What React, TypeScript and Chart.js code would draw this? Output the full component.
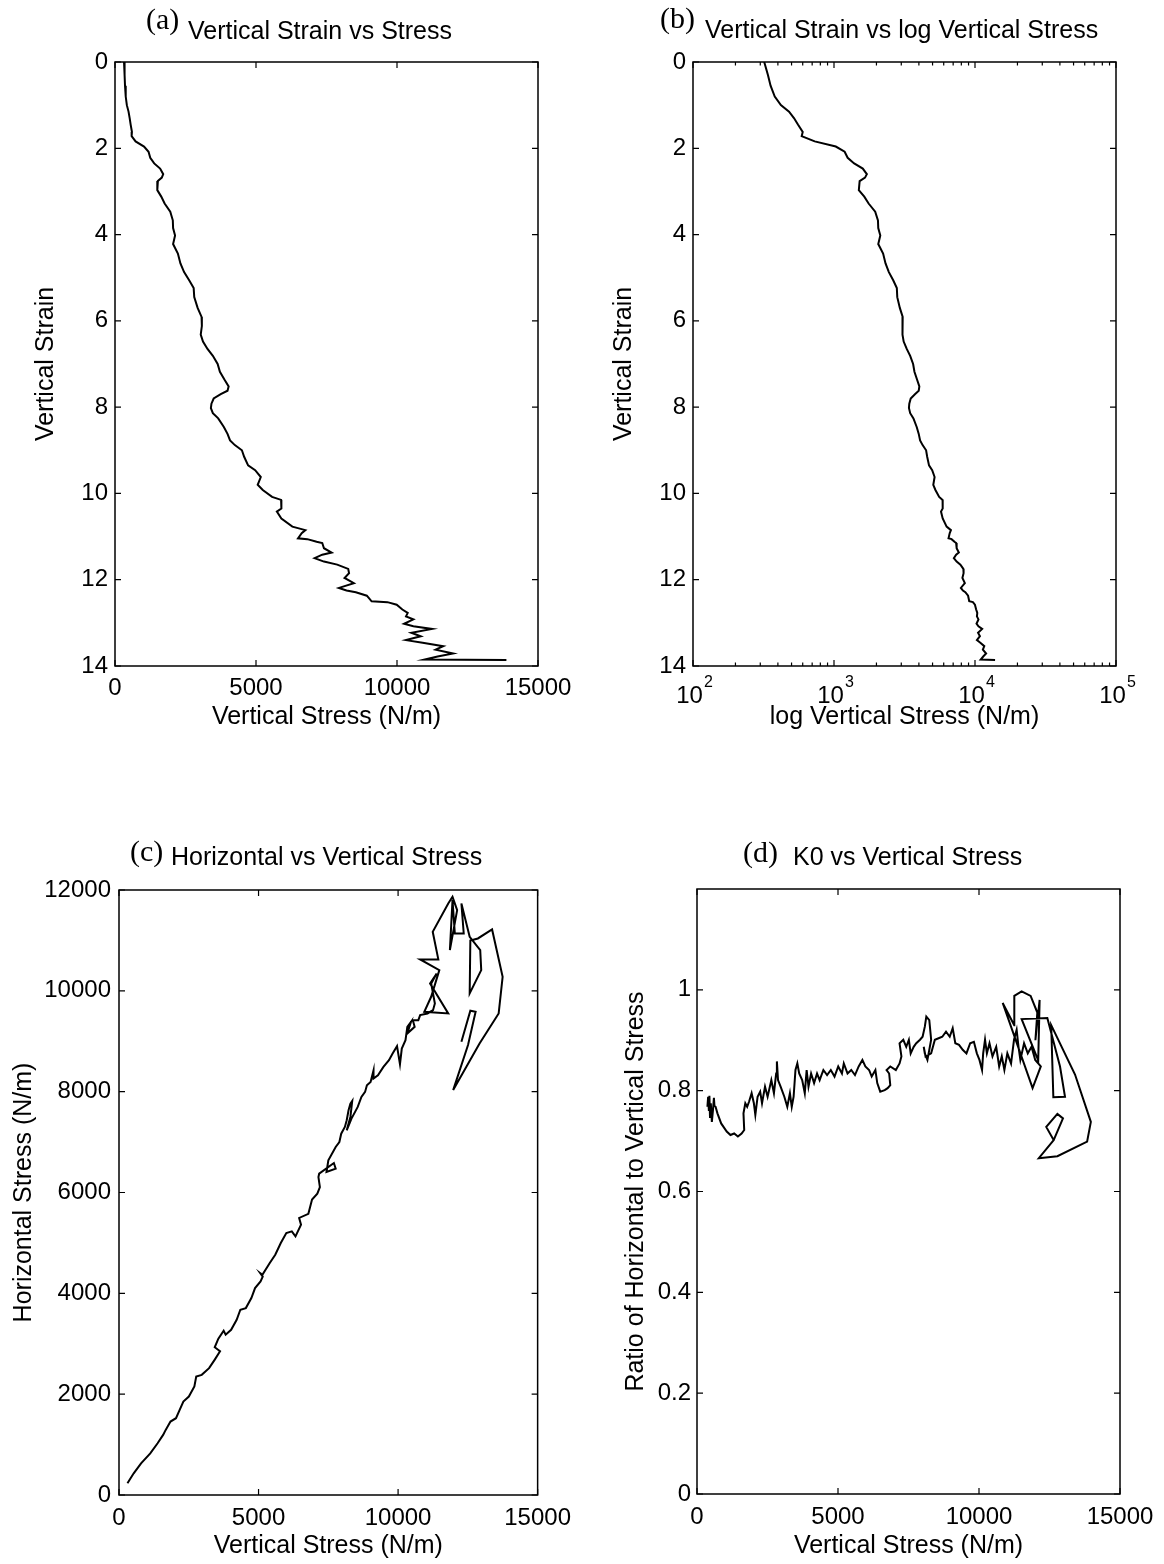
import React, { useEffect, useRef } from "react";
import { Chart, registerables } from "chart.js";

Chart.register(...registerables);

const SANS = '"Liberation Sans", Arial, Helvetica, sans-serif';
const SERIF = '"Liberation Serif", "Times New Roman", Times, serif';

// Vertical strain vs vertical stress (N/m), used by panels (a) and (b)
const strain = [
  0, 0.3, 0.55, 0.8, 1.0, 1.15, 1.3, 1.45, 1.62, 1.72,
  1.84, 1.96, 2.08, 2.22, 2.35, 2.47, 2.6, 2.68, 2.76, 2.97,
  3.12, 3.28, 3.47, 3.67, 3.85, 4.02, 4.22, 4.44, 4.67, 4.87,
  5.06, 5.24, 5.45, 5.7, 5.91, 6.12, 6.32, 6.48, 6.65, 6.81,
  7.0, 7.18, 7.36, 7.52, 7.62, 7.7, 7.8, 7.92, 8.02, 8.14,
  8.26, 8.46, 8.62, 8.77, 8.88, 9.0, 9.15, 9.35, 9.46, 9.62,
  9.8, 9.92, 10.08, 10.15, 10.35, 10.42, 10.58, 10.77, 10.85, 10.92,
  11.04, 11.06, 11.12, 11.15, 11.27, 11.37, 11.42, 11.5, 11.58, 11.65,
  11.75, 11.85, 11.96, 12.08, 12.19, 12.25, 12.29, 12.37, 12.5, 12.52,
  12.58, 12.69, 12.77, 12.85, 12.92, 13.02, 13.08, 13.14, 13.23, 13.31,
  13.4, 13.46, 13.54, 13.62, 13.71, 13.78, 13.85, 13.86,
];
const verticalStress = [
  320, 340, 355, 380, 420, 480, 520, 555, 600, 590,
  730, 1030, 1190, 1250, 1390, 1600, 1710, 1660, 1520, 1500,
  1640, 1760, 1960, 2050, 2060, 2130, 2060, 2230, 2320, 2450,
  2630, 2790, 2810, 2930, 3070, 3080, 3040, 3120, 3280, 3470,
  3640, 3720, 3880, 4030, 3990, 3750, 3500, 3420, 3400, 3470,
  3660, 3860, 3990, 4080, 4250, 4500, 4580, 4720, 4970, 5170,
  5060, 5240, 5570, 5890, 5900, 5740, 5900, 6290, 6750, 6620,
  6490, 6820, 7150, 7350, 7410, 7680, 7350, 7080, 7410, 7880,
  8270, 8300, 8140, 8470, 7940, 8210, 8540, 8930, 9100, 9660,
  9990, 10190, 10380, 10320, 10580, 10250, 10580, 11240, 10510, 10840,
  10320, 10910, 11640, 11370, 11990, 11440, 10980, 13880,
];

// Horizontal vs vertical stress (N/m), panel (c)
const vStressC = [
  303, 527, 790, 1120, 1383, 1581, 1673, 1845, 2042, 2174,
  2306, 2503, 2701, 2767, 2964, 3228, 3426, 3620, 3430, 3560,
  3750, 3821, 4018, 4216, 4348, 4545, 4743, 4875, 5072, 5150,
  5060, 5138, 5402, 5599, 5797, 5995, 6192, 6324, 6522, 6455,
  6785, 6917, 7106, 7198, 7146, 7172, 7699, 7764, 7435, 7501,
  7764, 7896, 7962, 8093, 8159, 8225, 8291, 8357, 8291, 8159,
  8330, 8554, 8686, 8817, 8883, 9015, 9120, 9120, 9278, 9475,
  9673, 9804, 9962, 10067, 10133, 10265, 10331, 10462, 10331, 10594,
  10528, 10725, 10791, 11054, 11252, 11318, 11252, 11186, 11383, 11146,
  11797, 10939, 11185, 11478, 10791, 11442, 11241, 11797, 11950, 12116,
  11856, 11950, 12033, 12352, 12269, 12565, 12943, 12979, 12565, 12589,
  12860, 13368, 13746, 13604, 12919, 11974, 12506, 12778, 12589, 12269,
];
const hStressC = [
  232, 430, 629, 827, 1026, 1192, 1291, 1456, 1523, 1688,
  1854, 1953, 2152, 2350, 2383, 2516, 2681, 2850, 2930, 3100,
  3260, 3180, 3277, 3476, 3674, 3707, 3906, 4104, 4237, 4330,
  4400, 4369, 4601, 4766, 4998, 5197, 5230, 5131, 5362, 5495,
  5577, 5859, 5976, 6108, 6307, 6373, 6585, 6472, 6406, 6638,
  6903, 7002, 7167, 7300, 7432, 7631, 7763, 7816, 7498, 7234,
  7465, 7697, 7895, 7995, 8127, 8194, 8425, 8260, 8326, 8491,
  8624, 8756, 8902, 8544, 8856, 9021, 9286, 9385, 9153, 9286,
  9418, 9418, 9518, 9551, 9617, 9749, 9948, 10146, 10345, 10147,
  9552, 9585, 9882, 10411, 10623, 10623, 11171, 11733, 11865, 11601,
  10808, 11799, 11138, 11138, 11733, 11072, 10808, 10411, 9949, 11000,
  11039, 11217, 10278, 9552, 8957, 8031, 8924, 9585, 9605, 8990,
];

// K0 (horizontal / vertical stress) vs vertical stress, panel (d)
const vStressD = [
  369, 395, 422, 440, 461, 490, 527, 567, 600, 619,
  659, 725, 857, 1054, 1186, 1318, 1450, 1582, 1674, 1648,
  1713, 1779, 1845, 1937, 2017, 2069, 2149, 2240, 2306, 2412,
  2504, 2636, 2728, 2807, 2833, 2873, 2965, 3097, 3202, 3295,
  3360, 3426, 3492, 3558, 3624, 3730, 3822, 3888, 3954, 4046,
  4152, 4257, 4349, 4481, 4613, 4745, 4877, 5008, 5140, 5206,
  5338, 5470, 5602, 5733, 5865, 5970, 6102, 6195, 6326, 6392,
  6498, 6656, 6761, 6854, 6814, 6722, 6854, 7051, 7183, 7249,
  7183, 7315, 7420, 7513, 7578, 7684, 7776, 7908, 8000, 8079,
  8132, 8237, 8303, 8237, 8171, 8079, 8040, 8105, 8303, 8435,
  8567, 8698, 8830, 8962, 9067, 9160, 9291, 9423, 9555, 9687,
  9819, 9924, 10016, 10108, 10148, 10214, 10280, 10372, 10478, 10610,
  10715, 10808, 10900, 11005, 11137, 11242, 11335, 11401, 11467, 11598,
  11730, 11862, 11994, 12192, 11900, 10840, 11250, 11252, 11512, 11831,
  12068, 12000, 12150, 12100, 11512, 12423, 12873, 13050, 12636, 12560,
  13405, 13966, 13834, 12780, 12121, 12648, 12385, 12780, 12978, 12648,
];
const k0Ratio = [
  0.768, 0.788, 0.76, 0.79, 0.748, 0.775, 0.738, 0.762, 0.786, 0.77,
  0.768, 0.755, 0.735, 0.719, 0.712, 0.715, 0.709, 0.715, 0.722, 0.755,
  0.775, 0.768, 0.778, 0.795, 0.775, 0.752, 0.788, 0.798, 0.775, 0.808,
  0.788, 0.821, 0.795, 0.834, 0.858, 0.821, 0.808, 0.788, 0.768, 0.795,
  0.768, 0.788, 0.841, 0.854, 0.834, 0.821, 0.795, 0.841, 0.808, 0.834,
  0.815, 0.834, 0.821, 0.841, 0.831, 0.841, 0.828, 0.848, 0.834, 0.854,
  0.834, 0.841, 0.831, 0.848, 0.861, 0.848, 0.841, 0.828, 0.841, 0.815,
  0.798, 0.801, 0.805, 0.811, 0.834, 0.841, 0.848, 0.841, 0.854, 0.868,
  0.894, 0.901, 0.887, 0.901, 0.874, 0.887, 0.894, 0.901, 0.907, 0.927,
  0.947, 0.94, 0.901, 0.881, 0.861, 0.874, 0.887, 0.868, 0.874, 0.901,
  0.904, 0.907, 0.917, 0.907, 0.924, 0.894, 0.891, 0.881, 0.874, 0.894,
  0.897, 0.874, 0.861, 0.841, 0.874, 0.901, 0.874, 0.894, 0.868, 0.887,
  0.848, 0.868, 0.841, 0.874, 0.854, 0.901, 0.921, 0.887, 0.861, 0.894,
  0.874, 0.887, 0.861, 0.848, 0.805, 0.974, 0.93, 0.988, 0.997, 0.988,
  0.955, 0.9, 0.98, 0.86, 0.942, 0.944, 0.848, 0.788, 0.787, 0.93,
  0.832, 0.738, 0.699, 0.67, 0.666, 0.702, 0.728, 0.754, 0.745, 0.702,
];

// Axis tick values
const stressTicks = [0, 5000, 10000, 15000];
const strainTicks = [0, 2, 4, 6, 8, 10, 12, 14];
const logStressTicks = [100, 1000, 10000, 100000];
const horizontalTicks = [0, 2000, 4000, 6000, 8000, 10000, 12000];
const ratioTicks = [0, 0.2, 0.4, 0.6, 0.8, 1];

type PanelSpec = {
  id: string;
  box: { left: number; top: number; width: number; height: number };
  plot: { left: number; top: number; right: number; bottom: number };
  yAxisWidth: number;
  xAxisHeight: number;
  yTitlePad: number;
  xTitlePad: number;
  yTickPad: number;
  xTickPad: number;
  xs: number[];
  ys: number[];
  xLog: boolean;
  xMin: number;
  xMax: number;
  xTicks: number[];
  xTitle: string;
  yMin: number;
  yMax: number;
  yTicks: number[];
  yTitle: string;
  yReverse: boolean;
  tag: string;
  heading: string;
  tagAt: [number, number];
  headingAt: [number, number];
};

const panels: PanelSpec[] = [
  {
    id: "a",
    box: { left: 0, top: 0, width: 580, height: 780 },
    plot: { left: 115, top: 62, right: 538, bottom: 666 },
    yAxisWidth: 100, xAxisHeight: 70, yTitlePad: 16, xTitlePad: 4, yTickPad: 7, xTickPad: 8,
    xs: verticalStress, ys: strain, xLog: false,
    xMin: 0, xMax: 15000, xTicks: stressTicks, xTitle: "Vertical Stress (N/m)",
    yMin: 0, yMax: 14, yTicks: strainTicks, yTitle: "Vertical Strain", yReverse: true,
    tag: "(a)", heading: "Vertical Strain vs Stress", tagAt: [146, 21], headingAt: [188, 32],
  },
  {
    id: "b",
    box: { left: 580, top: 0, width: 584, height: 780 },
    plot: { left: 113, top: 62, right: 536, bottom: 666 },
    yAxisWidth: 90, xAxisHeight: 70, yTitlePad: 6, xTitlePad: 4, yTickPad: 7, xTickPad: 8,
    xs: verticalStress, ys: strain, xLog: true,
    xMin: 100, xMax: 100000, xTicks: logStressTicks, xTitle: "log Vertical Stress (N/m)",
    yMin: 0, yMax: 14, yTicks: strainTicks, yTitle: "Vertical Strain", yReverse: true,
    tag: "(b)", heading: "Vertical Strain vs log Vertical Stress", tagAt: [80, 20], headingAt: [125, 31],
  },
  {
    id: "c",
    box: { left: 0, top: 780, width: 580, height: 784 },
    plot: { left: 119, top: 110, right: 542, bottom: 715 },
    yAxisWidth: 110, xAxisHeight: 66, yTitlePad: 0, xTitlePad: 0, yTickPad: 8, xTickPad: 9,
    xs: vStressC, ys: hStressC, xLog: false,
    xMin: 0, xMax: 15000, xTicks: stressTicks, xTitle: "Vertical Stress (N/m)",
    yMin: 0, yMax: 12000, yTicks: horizontalTicks, yTitle: "Horizontal Stress (N/m)", yReverse: false,
    tag: "(c)", heading: "Horizontal vs Vertical Stress", tagAt: [130, 73], headingAt: [171, 78],
  },
  {
    id: "d",
    box: { left: 580, top: 780, width: 584, height: 784 },
    plot: { left: 117, top: 109, right: 540, bottom: 714 },
    yAxisWidth: 80, xAxisHeight: 67, yTitlePad: 4, xTitlePad: 0, yTickPad: 6, xTickPad: 9,
    xs: vStressD, ys: k0Ratio, xLog: false,
    xMin: 0, xMax: 15000, xTicks: stressTicks, xTitle: "Vertical Stress (N/m)",
    yMin: 0, yMax: 1.2, yTicks: ratioTicks, yTitle: "Ratio of Horizontal to Vertical Stress", yReverse: false,
    tag: "(d)", heading: "K0 vs Vertical Stress", tagAt: [163, 74], headingAt: [213, 78],
  },
];

function framePlugin(spec: PanelSpec) {
  return {
    id: "frame_" + spec.id,
    afterDraw(chart: any) {
      const { ctx, chartArea: a } = chart;
      const xs = chart.scales.x;
      const ys = chart.scales.y;
      ctx.save();
      ctx.strokeStyle = "#000";
      ctx.fillStyle = "#000";

      // axes box
      ctx.lineWidth = 1.5;
      ctx.strokeRect(a.left, a.top, a.right - a.left, a.bottom - a.top);

      // inward tick marks on all four sides
      const TL = 6;
      ctx.lineWidth = 1.2;
      ctx.beginPath();
      for (const t of xs.ticks) {
        const p = xs.getPixelForValue(t.value);
        ctx.moveTo(p, a.bottom);
        ctx.lineTo(p, a.bottom - TL);
        ctx.moveTo(p, a.top);
        ctx.lineTo(p, a.top + TL);
      }
      for (const t of ys.ticks) {
        const p = ys.getPixelForValue(t.value);
        ctx.moveTo(a.left, p);
        ctx.lineTo(a.left + TL, p);
        ctx.moveTo(a.right, p);
        ctx.lineTo(a.right - TL, p);
      }
      if (spec.xLog) {
        for (let i = 0; i < spec.xTicks.length - 1; i++) {
          for (let m = 2; m <= 9; m++) {
            const p = xs.getPixelForValue(spec.xTicks[i] * m);
            ctx.moveTo(p, a.bottom);
            ctx.lineTo(p, a.bottom - 3.5);
            ctx.moveTo(p, a.top);
            ctx.lineTo(p, a.top + 3.5);
          }
        }
      }
      ctx.stroke();

      // decade labels with superscript exponents
      if (spec.xLog) {
        ctx.textBaseline = "middle";
        ctx.textAlign = "left";
        for (const t of xs.ticks) {
          const p = xs.getPixelForValue(t.value);
          const exp = String(Math.round(Math.log10(t.value)));
          ctx.font = `24px ${SANS}`;
          const wb = ctx.measureText("10").width;
          ctx.font = `16px ${SANS}`;
          const we = ctx.measureText(exp).width;
          const x0 = p - (wb + we) / 2 + 1;
          ctx.font = `24px ${SANS}`;
          ctx.fillText("10", x0, a.bottom + 30);
          ctx.font = `16px ${SANS}`;
          ctx.fillText(exp, x0 + wb + 1, a.bottom + 17);
        }
      }

      // panel heading: serif letter tag followed by sans text
      ctx.textBaseline = "middle";
      ctx.textAlign = "left";
      ctx.font = `30px ${SERIF}`;
      ctx.fillText(spec.tag, spec.tagAt[0], spec.tagAt[1]);
      ctx.font = `25px ${SANS}`;
      ctx.fillText(spec.heading, spec.headingAt[0], spec.headingAt[1]);
      ctx.restore();
    },
  };
}

function Panel({ spec }: { spec: PanelSpec }) {
  const ref = useRef<HTMLCanvasElement | null>(null);

  useEffect(() => {
    if (!ref.current) return;
    const { box, plot } = spec;
    const points = spec.xs.map((x, i) => ({ x, y: spec.ys[i] }));
    const tickFont = { family: SANS, size: 24 };
    const titleFont = { family: SANS, size: 25 };

    const chart = new Chart(ref.current, {
      type: "scatter",
      data: {
        datasets: [
          {
            data: points,
            showLine: true,
            borderColor: "#000",
            backgroundColor: "#000",
            borderWidth: 2,
            pointRadius: 0,
            tension: 0,
            fill: false,
          } as any,
        ],
      },
      options: {
        responsive: false,
        animation: false,
        events: [],
        layout: {
          autoPadding: false,
          padding: {
            left: plot.left - spec.yAxisWidth,
            top: plot.top,
            right: box.width - plot.right,
            bottom: box.height - plot.bottom - spec.xAxisHeight,
          },
        },
        plugins: {
          legend: { display: false },
          tooltip: { enabled: false },
          title: { display: false },
        },
        scales: {
          x: {
            type: spec.xLog ? "logarithmic" : "linear",
            position: "bottom",
            min: spec.xMin,
            max: spec.xMax,
            grid: { display: false, drawTicks: false },
            border: { display: false },
            ticks: {
              display: !spec.xLog,
              color: "#000",
              font: tickFont,
              padding: spec.xTickPad,
              maxRotation: 0,
              autoSkip: false,
              callback: (v: any) => String(v),
            },
            title: {
              display: true,
              text: spec.xTitle,
              color: "#000",
              font: titleFont,
              padding: { top: 0, bottom: spec.xTitlePad },
            },
            afterBuildTicks: (s: any) => {
              s.ticks = spec.xTicks.map((value) => ({ value }));
            },
            afterFit: (s: any) => {
              s.height = spec.xAxisHeight;
            },
          },
          y: {
            type: "linear",
            position: "left",
            min: spec.yMin,
            max: spec.yMax,
            reverse: spec.yReverse,
            grid: { display: false, drawTicks: false },
            border: { display: false },
            ticks: {
              color: "#000",
              font: tickFont,
              padding: spec.yTickPad,
              autoSkip: false,
              callback: (v: any) => String(v),
            },
            title: {
              display: true,
              text: spec.yTitle,
              color: "#000",
              font: titleFont,
              padding: { top: spec.yTitlePad, bottom: 0 },
            },
            afterBuildTicks: (s: any) => {
              s.ticks = spec.yTicks.map((value) => ({ value }));
            },
            afterFit: (s: any) => {
              s.width = spec.yAxisWidth;
            },
          },
        },
      } as any,
      plugins: [framePlugin(spec)],
    });

    return () => chart.destroy();
  }, [spec]);

  const { box } = spec;
  return (
    <canvas
      ref={ref}
      width={box.width}
      height={box.height}
      style={{
        position: "absolute",
        left: box.left,
        top: box.top,
        width: box.width,
        height: box.height,
      }}
    />
  );
}

export default function App() {
  return (
    <div
      style={{
        position: "absolute",
        left: 0,
        top: 0,
        width: 1164,
        height: 1564,
        background: "#fff",
        overflow: "hidden",
      }}
    >
      {panels.map((p) => (
        <Panel key={p.id} spec={p} />
      ))}
    </div>
  );
}
